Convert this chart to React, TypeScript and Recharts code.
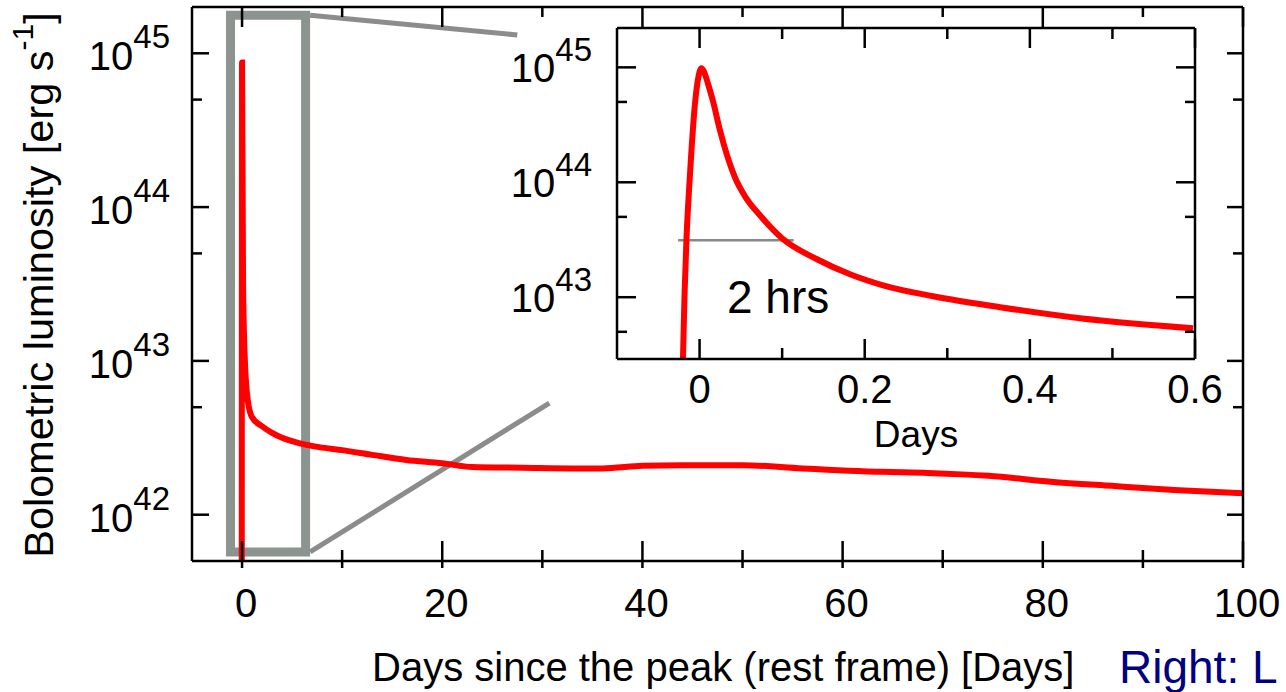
import React from 'react';
import { LineChart, Line, XAxis, YAxis, ReferenceArea, ReferenceLine } from 'recharts';

// ---- Data ----
// Inset: fine sampling around the peak (days since peak, bolometric luminosity erg/s)
const insetDays = [-0.024, -0.0201, -0.0183, -0.0159, -0.0128, -0.0098, -0.0062, -0.0025, 0.0023, 0.0053, 0.0102, 0.0162, 0.0247, 0.0332, 0.0429, 0.055, 0.0731, 0.0998, 0.1422, 0.1822, 0.2222, 0.2828, 0.3639, 0.4608, 0.5976];
const insetLum = [2.5e41, 2.9e42, 1.0e43, 3.16e43, 8.5e43, 1.9e44, 4.3e44, 7.4e44, 9.8e44, 9.2e44, 7.2e44, 5.1e44, 2.83e44, 1.72e44, 1.1e44, 7.55e43, 5.16e43, 3.26e43, 2.14e43, 1.585e43, 1.27e43, 1.02e43, 8.19e42, 6.56e42, 5.37e42];
// Main panel: coarse sampling over 100 days
const mainDays = [-0.03, 0.0, 0.1, 0.3, 0.6, 1.0, 2.0, 3.0, 4.0, 5.7, 7.7, 10, 13, 16.4, 20, 23, 28, 33, 36, 40, 44, 50, 56, 64, 68.5, 74.6, 80.8, 86.9, 93.1, 100];
const mainLum = [2.5e41, 8.7e44, 3.2e43, 9.5e42, 5.4e42, 4.3e42, 3.76e42, 3.4e42, 3.16e42, 2.92e42, 2.75e42, 2.63e42, 2.45e42, 2.27e42, 2.16e42, 2.04e42, 2.02e42, 2.0e42, 2.0e42, 2.08e42, 2.1e42, 2.1e42, 2.0e42, 1.9e42, 1.87e42, 1.79e42, 1.64e42, 1.54e42, 1.45e42, 1.38e42];

// Axes
const mainXDomain = [-5, 100];
const mainYDomain = [5e41, 2e45];
const mainXTicks = [0, 10, 20, 30, 40, 50, 60, 70, 80, 90, 100];
const mainYTicks = [1e42, 5e42, 1e43, 5e43, 1e44, 5e44, 1e45];
const insetXDomain = [-0.1, 0.6];
const insetYDomain = [2.9e42, 2.2e45];
const insetXTicks = [0, 0.1, 0.2, 0.3, 0.4, 0.5, 0.6];
const insetYTicks = [5e42, 1e43, 5e43, 1e44, 5e44, 1e45];

// Annotations (data coordinates)
const zoomBox = { x1: -1.15, x2: 6.35, y1: 5.73e41, y2: 1.77e45 };
const connectorTop = [{ x: 6.8, y: 1.77e45 }, { x: 27.5, y: 1.315e45 }];
const connectorBottom = [{ x: 6.8, y: 5.73e41 }, { x: 30.7, y: 5.32e42 }];
const widthMarker = [{ x: -0.026, y: 3.13e43 }, { x: 0.114, y: 3.13e43 }];

const insetData = insetDays.map((d, i) => ({ day: d, lum: insetLum[i] }));
const mainData = mainDays.map((d, i) => ({ day: d, lum: mainLum[i] }));

const FONT = '"Liberation Sans", Arial, Helvetica, sans-serif';
const SW = 2.5;

const isMajorPow = (v: number) => Math.abs(Math.log10(v) - Math.round(Math.log10(v))) < 1e-6;
const expOf = (v: number) => Math.round(Math.log10(v));

const MainBottomTick = (p: any) => {
  const { x, y, payload } = p;
  const v = payload.value;
  const major = v % 20 === 0;
  return (
    <g>
      <line x1={x} x2={x} y1={y - (major ? 20 : 11)} y2={y + 7} stroke="#000" strokeWidth={SW} />
      {major && (
        <text x={x + 4} y={y + 56} textAnchor="middle" fontSize={40} fontFamily={FONT} fill="#000">{v}</text>
      )}
    </g>
  );
};
const MainTopTick = (p: any) => {
  const { x, y, payload } = p;
  const major = payload.value % 20 === 0;
  return <line x1={x} x2={x} y1={y} y2={y + (major ? 20 : 10)} stroke="#000" strokeWidth={SW} />;
};
const MainLeftTick = (p: any) => {
  const { x, y, payload } = p;
  const v = payload.value;
  const major = isMajorPow(v);
  return (
    <g>
      <line x1={x} x2={x + (major ? 17 : 10)} y1={y} y2={y} stroke="#000" strokeWidth={SW} />
      {major && (
        <text x={x - 22} y={y + 17} textAnchor="end" fontSize={40} fontFamily={FONT} fill="#000">
          <tspan>10</tspan>
          <tspan dy={-22} fontSize={33}>{expOf(v)}</tspan>
        </text>
      )}
    </g>
  );
};
const MainRightTick = (p: any) => {
  const { x, y, payload } = p;
  const major = isMajorPow(payload.value);
  return <line x1={x - (major ? 16 : 10)} x2={x} y1={y} y2={y} stroke="#000" strokeWidth={SW} />;
};

const insetMajorX = (v: number) => Math.round(v * 10) % 2 === 0;
const InsetBottomTick = (p: any) => {
  const { x, y, payload } = p;
  const v = payload.value;
  const major = insetMajorX(v);
  return (
    <g>
      <line x1={x} x2={x} y1={y - (major ? 20 : 11)} y2={y} stroke="#000" strokeWidth={SW} />
      {major && (
        <text x={x} y={y + 44} textAnchor="middle" fontSize={40} fontFamily={FONT} fill="#000">{String(v)}</text>
      )}
    </g>
  );
};
const InsetTopTick = (p: any) => {
  const { x, y, payload } = p;
  const major = insetMajorX(payload.value);
  return <line x1={x} x2={x} y1={y} y2={y + (major ? 20 : 11)} stroke="#000" strokeWidth={SW} />;
};
const InsetLeftTick = (p: any) => {
  const { x, y, payload } = p;
  const v = payload.value;
  const major = isMajorPow(v);
  return (
    <g>
      <line x1={x} x2={x + (major ? 19 : 10)} y1={y} y2={y} stroke="#000" strokeWidth={SW} />
      {major && (
        <text x={x - 25} y={y + 15} textAnchor="end" fontSize={40} fontFamily={FONT} fill="#000">
          <tspan>10</tspan>
          <tspan dy={-21} fontSize={33}>{expOf(v)}</tspan>
        </text>
      )}
    </g>
  );
};
const InsetRightTick = (p: any) => {
  const { x, y, payload } = p;
  const major = isMajorPow(payload.value);
  return <line x1={x - (major ? 19 : 10)} x2={x} y1={y} y2={y} stroke="#000" strokeWidth={SW} />;
};

const axisLine = { stroke: '#000', strokeWidth: SW };

export default function App() {
  return (
    <div style={{ position: 'absolute', left: 0, top: 0, width: 1286, height: 692, background: '#fff', overflow: 'hidden' }}>
      {/* Main chart */}
      <div style={{ position: 'absolute', left: 0, top: 0 }}>
        <LineChart width={1286} height={692} data={mainData} margin={{ top: 6, right: 42, bottom: 130, left: 191 }}>
          <XAxis xAxisId="b" dataKey="day" type="number" domain={mainXDomain} ticks={mainXTicks} interval={0}
            height={1} tickSize={0} tickMargin={0} tickLine={false} axisLine={axisLine} tick={<MainBottomTick />} allowDataOverflow />
          <XAxis xAxisId="t" orientation="top" dataKey="day" type="number" domain={mainXDomain} ticks={mainXTicks} interval={0}
            height={1} tickSize={0} tickMargin={0} tickLine={false} axisLine={axisLine} tick={<MainTopTick />} allowDataOverflow />
          <YAxis yAxisId="l" scale="log" type="number" domain={mainYDomain} ticks={mainYTicks} interval={0}
            width={1} tickSize={0} tickMargin={0} tickLine={false} axisLine={axisLine} tick={<MainLeftTick />} allowDataOverflow />
          <YAxis yAxisId="r" orientation="right" scale="log" type="number" domain={mainYDomain} ticks={mainYTicks} interval={0}
            width={1} tickSize={0} tickMargin={0} tickLine={false} axisLine={axisLine} tick={<MainRightTick />} allowDataOverflow />
          <ReferenceArea xAxisId="b" yAxisId="l" x1={zoomBox.x1} x2={zoomBox.x2} y1={zoomBox.y1} y2={zoomBox.y2}
            fill="none" fillOpacity={0} stroke="#8b948f" strokeWidth={9} ifOverflow="visible" />
          <ReferenceLine xAxisId="b" yAxisId="l" segment={connectorTop} stroke="#8c8c8c" strokeWidth={5} ifOverflow="visible" />
          <ReferenceLine xAxisId="b" yAxisId="l" segment={connectorBottom} stroke="#8c8c8c" strokeWidth={5} ifOverflow="visible" />
          <Line xAxisId="b" yAxisId="l" type="monotone" dataKey="lum" stroke="#ff0000" strokeWidth={6} dot={false}
            activeDot={false} isAnimationActive={false} />
        </LineChart>
      </div>
      {/* Inset */}
      <div style={{ position: 'absolute', left: 0, top: 0 }}>
        <LineChart width={1286} height={692} data={insetData} margin={{ top: 27, right: 90, bottom: 332, left: 616 }}>
          <XAxis xAxisId="b" dataKey="day" type="number" domain={insetXDomain} ticks={insetXTicks} interval={0}
            height={1} tickSize={0} tickMargin={0} tickLine={false} axisLine={axisLine} tick={<InsetBottomTick />} allowDataOverflow />
          <XAxis xAxisId="t" orientation="top" dataKey="day" type="number" domain={insetXDomain} ticks={insetXTicks} interval={0}
            height={1} tickSize={0} tickMargin={0} tickLine={false} axisLine={axisLine} tick={<InsetTopTick />} allowDataOverflow />
          <YAxis yAxisId="l" scale="log" type="number" domain={insetYDomain} ticks={insetYTicks} interval={0}
            width={1} tickSize={0} tickMargin={0} tickLine={false} axisLine={axisLine} tick={<InsetLeftTick />} allowDataOverflow />
          <YAxis yAxisId="r" orientation="right" scale="log" type="number" domain={insetYDomain} ticks={insetYTicks} interval={0}
            width={1} tickSize={0} tickMargin={0} tickLine={false} axisLine={axisLine} tick={<InsetRightTick />} allowDataOverflow />
          <ReferenceLine xAxisId="b" yAxisId="l" segment={widthMarker} stroke="#888888" strokeWidth={2.7} ifOverflow="visible" />
          <Line xAxisId="b" yAxisId="l" type="monotone" dataKey="lum" stroke="#ff0000" strokeWidth={6} dot={false}
            activeDot={false} isAnimationActive={false} />
        </LineChart>
      </div>
      {/* Text labels */}
      <svg width={1286} height={692} style={{ position: 'absolute', left: 0, top: 0, pointerEvents: 'none' }}>
        <text x={372} y={681} fontSize={40} fontFamily={FONT} fill="#000">Days since the peak (rest frame) [Days]</text>
        <text x={1119} y={683} fontSize={46} fontFamily={FONT} fill="#000080">Right: L</text>
        <text transform="translate(53,285) rotate(-90)" x={0} y={0} textAnchor="middle" fontSize={41.5} fontFamily={FONT} fill="#000">
          <tspan>Bolometric luminosity [erg s</tspan>
          <tspan dy={-20} fontSize={30}>-1</tspan>
          <tspan dy={20}>]</tspan>
        </text>
        <text x={916} y={447} textAnchor="middle" fontSize={37} fontFamily={FONT} fill="#000">Days</text>
        <text x={727} y={313} fontSize={46} fontFamily={FONT} fill="#000">2 hrs</text>
      </svg>
    </div>
  );
}
